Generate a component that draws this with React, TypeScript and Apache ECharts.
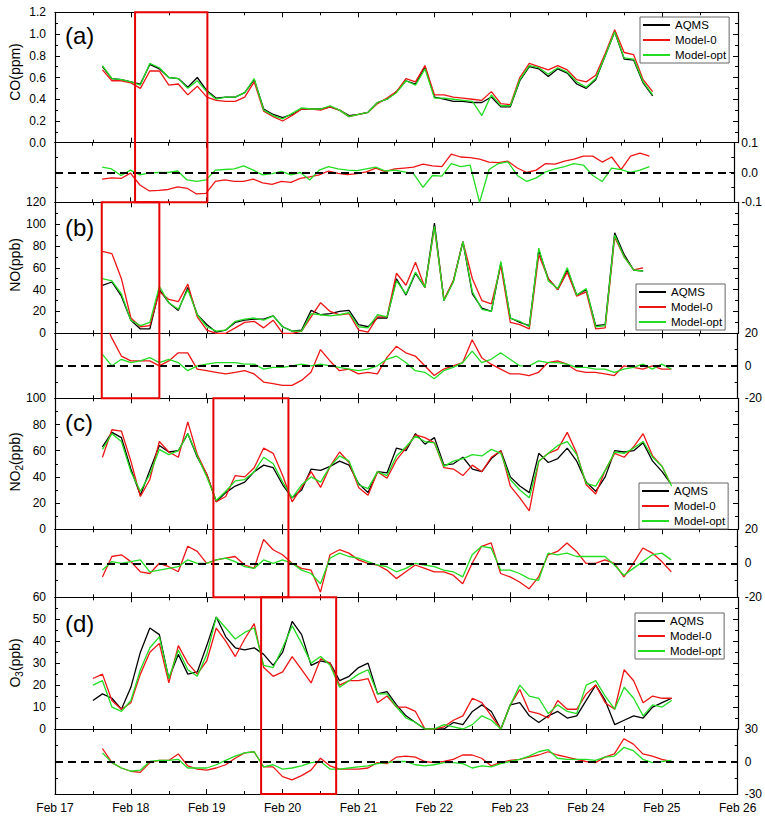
import React, { useEffect, useRef } from 'react';
import * as echarts from 'echarts';

// hours after Feb 17 00:00
const hours = [12, 15, 18, 21, 24, 27, 30, 33, 36, 39, 42, 45, 48, 51, 54, 57, 60, 63, 66, 69, 72, 75, 78, 81, 84, 87, 90, 93, 96, 99, 102, 105, 108, 111, 114, 117, 120, 123, 126, 129, 132, 135, 138, 141, 144, 147, 150, 153, 156, 159, 162, 165, 168, 171, 174, 177, 180, 183, 186, 189, 192, 195];
const dayLabels = ['Feb 17', 'Feb 18', 'Feb 19', 'Feb 20', 'Feb 21', 'Feb 22', 'Feb 23', 'Feb 24', 'Feb 25', 'Feb 26'];
const seriesNames = ['AQMS', 'Model-0', 'Model-opt'];

// CO (ppm)
const coAqms = [null, 0.70, 0.59, 0.58, 0.56, 0.54, 0.72, 0.68, 0.60, 0.59,
  0.51, 0.60, 0.48, 0.41, 0.42, 0.42, 0.46, 0.58, 0.31, 0.26,
  0.23, 0.26, 0.31, 0.31, 0.31, 0.33, 0.30, 0.25, 0.26, 0.28,
  0.37, 0.40, 0.47, 0.57, 0.54, 0.70, 0.42, 0.40, 0.38, 0.38,
  0.37, 0.37, 0.42, 0.33, 0.33, 0.57, 0.70, 0.68, 0.61, 0.68,
  0.64, 0.54, 0.50, 0.58, 0.80, 1.02, 0.77, 0.76, 0.55, 0.43,
  null, null];
const coModel0 = [null, 0.67, 0.57, 0.57, 0.55, 0.50, 0.66, 0.66, 0.53, 0.54,
  0.44, 0.52, 0.42, 0.39, 0.38, 0.38, 0.42, 0.56, 0.29, 0.24,
  0.20, 0.25, 0.31, 0.31, 0.30, 0.33, 0.30, 0.24, 0.26, 0.28,
  0.36, 0.41, 0.47, 0.59, 0.56, 0.71, 0.44, 0.44, 0.42, 0.41,
  0.40, 0.39, 0.47, 0.36, 0.35, 0.60, 0.73, 0.70, 0.67, 0.71,
  0.67, 0.58, 0.56, 0.62, 0.82, 1.04, 0.83, 0.81, 0.58, 0.47,
  null, null];
const coModelOpt = [null, 0.71, 0.59, 0.58, 0.56, 0.53, 0.73, 0.69, 0.60, 0.59,
  0.50, 0.57, 0.47, 0.40, 0.42, 0.42, 0.46, 0.59, 0.30, 0.25,
  0.22, 0.27, 0.32, 0.31, 0.31, 0.34, 0.30, 0.24, 0.26, 0.28,
  0.37, 0.40, 0.46, 0.57, 0.53, 0.68, 0.41, 0.41, 0.40, 0.39,
  0.38, 0.25, 0.44, 0.34, 0.34, 0.58, 0.71, 0.69, 0.63, 0.69,
  0.65, 0.56, 0.51, 0.59, 0.80, 1.02, 0.78, 0.77, 0.56, 0.44,
  null, null];
const coDiff0 = [null, -0.022, -0.018, -0.020, -0.002, -0.042, -0.062, -0.060, -0.057, -0.048,
  -0.053, -0.072, -0.070, -0.030, -0.025, -0.030, -0.030, -0.022, -0.035, -0.040,
  -0.030, -0.033, -0.020, -0.015, -0.008, 0.005, -0.003, -0.007, -0.004, 0.002,
  0.015, 0.003, 0.012, 0.015, 0.018, 0.028, 0.022, 0.020, 0.062, 0.052,
  0.050, 0.045, 0.035, 0.033, 0.038, 0.015, 0.000, 0.008, 0.030, 0.028,
  0.038, 0.045, 0.055, 0.055, 0.035, 0.052, 0.010, 0.055, 0.065, 0.055,
  null, null];
const coDiffOpt = [null, 0.018, 0.012, -0.010, 0.008, -0.008, -0.001, 0.000, 0.000, 0.005,
  -0.025, -0.030, -0.025, 0.008, 0.010, 0.012, 0.022, 0.008, -0.008, -0.004,
  0.004, -0.008, 0.000, -0.025, 0.008, 0.020, 0.012, 0.008, 0.006, 0.012,
  0.018, 0.005, 0.008, 0.002, -0.004, -0.050, -0.010, -0.012, 0.030, 0.020,
  0.025, -0.100, 0.010, 0.030, 0.036, -0.010, -0.030, -0.018, 0.002, 0.012,
  0.020, 0.030, 0.025, -0.010, -0.030, 0.015, 0.010, 0.000, 0.008, 0.020,
  null, null];

// NO (ppb)
const noAqms = [null, 44, 47, 34, 12, 4, 4, 40, 28, 21,
  42, 17, 8, 1, 3, 10, 12, 13, 13, 16,
  6, 2, 3, 21, 17, 18, 20, 21, 8, 6,
  14, 14, 50, 35, 55, 42, 101, 30, 48, 84,
  36, 23, 20, 64, 14, 10, 7, 76, 50, 40,
  58, 35, 40, 7, 8, 92, 72, 58, 57, null,
  null, null];
const noModel0 = [null, 75, 73, 50, 14, 6, 7, 38, 31, 29,
  45, 15, 3, 0, 0, 5, 10, 11, 5, 12,
  0, 0, 2, 15, 28, 20, 17, 18, 3, 1,
  15, 15, 55, 44, 65, 42, 97, 31, 48, 84,
  50, 30, 27, 62, 10, 8, 4, 72, 50, 40,
  56, 34, 38, 4, 5, 88, 70, 58, 60, null,
  null, null];
const noModelOpt = [null, 50, 48, 36, 12, 7, 10, 43, 28, 22,
  40, 17, 6, 2, 3, 11, 13, 14, 12, 16,
  6, 2, 2, 18, 17, 16, 17, 19, 6, 5,
  17, 15, 48, 36, 56, 42, 98, 30, 47, 84,
  38, 22, 20, 66, 14, 11, 6, 78, 48, 41,
  60, 35, 41, 6, 7, 90, 70, 58, 57, null,
  null, null];
const noDiff0 = [null, 30, 17, 6, 3, 3, 3, 0, 3, 8,
  8, -2, -3, -4, -5, -4, -3, -5, -10, -11,
  -12, -12, -9, -4, 10, 3, -3, -2, -5, -4,
  -5, 5, 12, 8, 6, 0, -6, -2, 0, 2,
  16, 5, 1, -2, -5, -5, -6, -4, 2, 3,
  1, -3, -4, -4, -5, -6, 0, -1, -2, 0,
  -2, -2];
const noDiffOpt = [null, 7, 0, 4, 2, 3, 5, 2, 4, 2,
  -3, 0, 1, 2, 2, 2, 1, 1, -2, -1,
  -1, 0, 1, 0, 1, 0, -1, -2, -3, -2,
  0, 4, 6, 2, -3, -4, -8, -3, -1, 2,
  9, 2, 4, 8, 4, 0, 0, 3, 2, 2,
  1, -1, -1, -2, -2, -4, -2, -1, 1, -2,
  1, -2];

// NO2 (ppb)
const no2Aqms = [null, 63, 74, 70, 46, 26, 45, 64, 59, 60,
  73, 55, 42, 21, 28, 33, 36, 44, 49, 47,
  34, 24, 30, 46, 45, 48, 52, 49, 35, 28,
  44, 43, 62, 60, 73, 65, 70, 49, 50, 55,
  46, 44, 54, 60, 40, 33, 28, 58, 51, 54,
  62, 52, 36, 29, 40, 60, 59, 60, 66, 52,
  44, 34];
const no2Model0 = [null, 55, 76, 75, 52, 25, 38, 67, 59, 55,
  82, 57, 42, 21, 25, 41, 40, 47, 62, 58,
  41, 21, 32, 44, 32, 48, 59, 51, 32, 26,
  44, 39, 53, 62, 72, 70, 66, 47, 46, 41,
  49, 44, 55, 60, 33, 24, 14, 52, 58, 61,
  74, 58, 34, 27, 45, 58, 55, 63, 73, 56,
  48, 33];
const no2ModelOpt = [null, 61, 73, 67, 44, 29, 42, 61, 57, 60,
  73, 56, 40, 22, 29, 37, 38, 44, 55, 50,
  36, 24, 34, 40, 36, 48, 56, 52, 34, 31,
  44, 41, 56, 63, 71, 67, 66, 48, 52, 54,
  57, 56, 61, 58, 38, 30, 24, 52, 58, 64,
  67, 57, 35, 33, 45, 59, 58, 62, 67, 55,
  48, 33];
const no2Diff0 = [null, -8, 4, 5, 1, -5, -6, 0, -2, -5,
  10, 7, 0, 2, 3, 4, -1, -3, 14, 8,
  5, 0, -3, -4, -17, 5, 8, 6, 2, 0,
  -1, -4, -9, -5, -1, -3, -5, -5, -7, -12,
  0, 10, 12, -6, -8, -11, -15, -8, 5, 7,
  12, 7, 0, 0, 2, 0, -8, 0, 9, 6,
  1, -5];
const no2DiffOpt = [null, -4, 1, 0, 1, 2, -5, -4, -3, -2,
  2, 0, 0, 2, 3, 1, -2, -3, 2, 0,
  2, 0, -4, -6, -12, 3, 6, 4, 3, 1,
  -1, -2, -5, -3, 0, -1, -2, -4, -5, -8,
  5, 10, 9, -4, -4, -6, -9, -10, 6, 5,
  6, 4, 4, 4, 4, -1, -7, -3, 1, 5,
  6, 2];

// O3 (ppb)
const o3Aqms = [13, 16, 14, 9, 19, 35, 46, 43, 23, 34,
  25, 26, 38, 51, 42, 37, 36, 37, 34, 29,
  35, 49, 43, 29, 31, 30, 22, 24, 28, 30,
  16, 17, 11, 6, 3, 0, 0, 0, 3, 2,
  8, 11, 8, 0, 11, 12, 6, 3, 6, 8,
  5, 6, 13, 20, 13, 2, 4, 6, 5, 10,
  12, 14];
const o3Model0 = [23, 25, 13, 9, 12, 25, 35, 39, 21, 38,
  30, 25, 31, 46, 40, 33, 41, 48, 28, 24,
  26, 33, 27, 21, 32, 30, 20, 22, 22, 23,
  12, 15, 10, 10, 8, 0, 0, 1, 4, 6,
  14, 12, 6, 0, 11, 18, 8, 7, 5, 13,
  9, 9, 16, 20, 12, 9, 27, 22, 12, 15,
  14, 14];
const o3ModelOpt = [20, 22, 10, 8, 13, 27, 37, 42, 23, 36,
  27, 24, 34, 51, 46, 41, 44, 46, 29, 28,
  37, 47, 39, 30, 33, 29, 19, 22, 25, 27,
  16, 16, 10, 5, 3, 0, 0, 2, 1, 0,
  2, 6, 4, 0, 11, 20, 15, 14, 7, 11,
  8, 7, 20, 22, 15, 9, 19, 14, 6, 11,
  10, 13];
const o3Diff0 = [null, 12, -1, -6, -9, -10, -1, 1, 1, 7,
  -4, -7, -8, -6, -3, 3, 8, 9, -5, -5,
  -14, -17, -13, -8, 3, -4, -7, -7, -7, -6,
  -1, -2, 4, 5, 4, 0, -1, 0, 2, 6,
  6, 3, -4, -1, 1, 2, 4, 6, 9, 6,
  4, 2, 0, -1, 4, 7, 21, 16, 7, 5,
  2, 0];
const o3DiffOpt = [null, 8, -1, -6, -9, -8, 0, 1, 1, 2,
  -6, -6, -6, -3, 1, 5, 8, 9, -5, -3,
  -7, -6, -4, -1, 0, -7, -7, -6, -5, -4,
  -2, -1, 0, 0, -3, -4, -3, -1, -1, -2,
  -6, -4, -5, -2, 0, 2, 5, 9, 11, 3,
  2, 2, 2, 1, 4, 5, 13, 10, 2, -1,
  0, 1];

// highlighted time windows (days after Feb 17 00:00)
const windows = [[1.055, 2.008], [0.616, 1.375], [2.087, 3.076], [2.716, 3.705]];

const FONT = '"Liberation Sans", Arial, Helvetica, sans-serif';
const COLORS = ['#000000', '#ee1515', '#22dd22'];
const LEFT = 55;
const RIGHT = 27;
const grids = [
  { top: 12.3, height: 130.4 },
  { top: 142.7, height: 59.6 },
  { top: 202.3, height: 131 },
  { top: 333.3, height: 65 },
  { top: 398.3, height: 131 },
  { top: 529.3, height: 68 },
  { top: 597.3, height: 131.7 },
  { top: 729, height: 65 },
];

const fmt1 = (v: number) => (Math.abs(v) < 1e-9 ? '0.0' : v.toFixed(1));
const fmt0 = (v: number) => String(Math.round(v));

const panels = [
  { tag: '(a)', tagY: 35, name: [{ t: 'CO(ppm)', s: false }], nameY: 72,
    main: [coAqms, coModel0, coModelOpt], diff: [coDiff0, coDiffOpt],
    y: [0, 1.2, 0.2], d: [-0.1, 0.1, 0.1], fmt: fmt1, legend: [640, 17] },
  { tag: '(b)', tagY: 227, name: [{ t: 'NO(ppb)', s: false }], nameY: 265,
    main: [noAqms, noModel0, noModelOpt], diff: [noDiff0, noDiffOpt],
    y: [0, 120, 20], d: [-20, 20, 20], fmt: fmt0, legend: [636, 284] },
  { tag: '(c)', tagY: 422, name: [{ t: 'NO', s: false }, { t: '2', s: true }, { t: '(ppb)', s: false }], nameY: 462,
    main: [no2Aqms, no2Model0, no2ModelOpt], diff: [no2Diff0, no2DiffOpt],
    y: [0, 100, 20], d: [-20, 20, 20], fmt: fmt0, legend: [639, 483] },
  { tag: '(d)', tagY: 623, name: [{ t: 'O', s: false }, { t: '3', s: true }, { t: '(ppb)', s: false }], nameY: 663,
    main: [o3Aqms, o3Model0, o3ModelOpt], diff: [o3Diff0, o3DiffOpt],
    y: [0, 60, 10], d: [-30, 30, 30], fmt: fmt0, legend: [635, 613] },
];

function pairs(vals: (number | null)[]) {
  return hours.map((h, i) => [h / 24, vals[i]]);
}

const axisLineStyle = { color: '#000', width: 1.2 };

export default function App() {
  const ref = useRef<HTMLDivElement>(null);
  useEffect(() => {
    if (!ref.current) return;
    const chart = echarts.init(ref.current, undefined, { renderer: 'svg' });

    const grid = grids.map((g) => ({ left: LEFT, right: RIGHT, top: g.top, height: g.height }));

    const xAxis: any[] = [];
    grids.forEach((_, gi) => {
      ['bottom', 'top'].forEach((pos) => {
        xAxis.push({
          type: 'value', gridIndex: gi, position: pos, min: 0, max: 9, interval: 1,
          axisLine: { show: true, onZero: false, lineStyle: axisLineStyle },
          axisTick: { show: true, inside: true, length: 5, lineStyle: { color: '#000', width: 1 } },
          minorTick: { show: true, splitNumber: 2, length: 3, lineStyle: { color: '#000', width: 1 } },
          splitLine: { show: false },
          axisLabel: {
            show: gi === 7 && pos === 'bottom', margin: 8, color: '#000', fontSize: 12, fontFamily: FONT,
            formatter: (v: number) => dayLabels[Math.round(v)] || '',
          },
        });
      });
    });

    const yAxis: any[] = [];
    panels.forEach((p) => {
      // main grid
      [['left', true], ['right', false]].forEach(([pos, lab]) => {
        yAxis.push({
          type: 'value', gridIndex: yAxis.length >> 1, position: pos, min: p.y[0], max: p.y[1], interval: p.y[2],
          axisLine: { show: true, onZero: false, lineStyle: axisLineStyle },
          axisTick: { show: true, inside: true, length: 5, lineStyle: { color: '#000' } },
          minorTick: { show: true, splitNumber: 2, length: 3, lineStyle: { color: '#000' } },
          splitLine: { show: false },
          axisLabel: { show: lab, margin: 9, color: '#000', fontSize: 12, fontFamily: FONT, formatter: p.fmt },
        });
      });
      [['left', false], ['right', true]].forEach(([pos, lab]) => {
        yAxis.push({
          type: 'value', gridIndex: yAxis.length >> 1, position: pos, min: p.d[0], max: p.d[1], interval: p.d[2],
          axisLine: { show: true, onZero: false, lineStyle: axisLineStyle },
          axisTick: { show: true, inside: true, length: 5, lineStyle: { color: '#000' } },
          minorTick: { show: true, splitNumber: 2, length: 3, lineStyle: { color: '#000' } },
          splitLine: { show: false },
          axisLabel: { show: lab, margin: 7, color: '#000', fontSize: 12, fontFamily: FONT, formatter: p.fmt },
        });
      });
    });

    const series: any[] = [];
    panels.forEach((p, pi) => {
      const gm = 2 * pi;
      const gd = 2 * pi + 1;
      p.main.forEach((vals, si) => {
        series.push({
          type: 'line', name: seriesNames[si], xAxisIndex: 2 * gm, yAxisIndex: 2 * gm,
          data: pairs(vals), showSymbol: false, symbol: 'none', connectNulls: false,
          lineStyle: { color: COLORS[si], width: 1.3 }, itemStyle: { color: COLORS[si] },
          z: 2 + si,
        });
      });
      p.diff.forEach((vals, k) => {
        const si = k + 1;
        const s: any = {
          type: 'line', name: seriesNames[si], xAxisIndex: 2 * gd, yAxisIndex: 2 * gd + 1,
          data: pairs(vals), showSymbol: false, symbol: 'none', connectNulls: false,
          lineStyle: { color: COLORS[si], width: 1.3 }, itemStyle: { color: COLORS[si] },
          z: 3 + k,
        };
        if (k === 0) {
          s.markLine = {
            silent: true, symbol: 'none', label: { show: false },
            lineStyle: { color: '#000', type: [8, 5], width: 2 },
            data: [{ yAxis: 0 }],
          };
        }
        series.push(s);
      });
    });

    const legend = panels.map((p) => ({
      left: p.legend[0], top: p.legend[1], orient: 'vertical',
      data: seriesNames, icon: 'rect', itemWidth: 27, itemHeight: 2, itemGap: 1, itemTextGap: 4,
      backgroundColor: '#fff', borderColor: '#666', borderWidth: 1, padding: [1, 3, 1, 3],
      textStyle: { fontSize: 11.5, color: '#000', fontFamily: FONT, lineHeight: 14 },
      selectedMode: false,
    }));

    const texts: any[] = [];
    panels.forEach((p, pi) => {
      texts.push({
        type: 'text', id: 'tag' + pi, x: 65, y: p.tagY, z: 50,
        style: { text: p.tag, fontSize: 24, fontFamily: FONT, fill: '#000', align: 'left', verticalAlign: 'middle' },
      });
      const txt = p.name.map((n) => (n.s ? '{s|' + n.t + '}' : '{n|' + n.t + '}')).join('');
      texts.push({
        type: 'text', id: 'name' + pi, x: 15, y: p.nameY, rotation: Math.PI / 2, z: 50,
        style: {
          text: txt, fill: '#000', align: 'center', verticalAlign: 'middle',
          rich: {
            n: { fontSize: 14, fontFamily: FONT, fill: '#000', lineHeight: 18 },
            s: { fontSize: 10, fontFamily: FONT, fill: '#000', lineHeight: 18, padding: [9, 0, 0, 0] },
          },
        },
      });
    });

    chart.setOption({
      animation: false,
      backgroundColor: '#fff',
      grid, xAxis, yAxis, series, legend,
      graphic: texts,
    });

    const rects = windows.map((w, pi) => {
      const x0 = chart.convertToPixel({ xAxisIndex: 4 * pi } as any, w[0]) as unknown as number;
      const x1 = chart.convertToPixel({ xAxisIndex: 4 * pi } as any, w[1]) as unknown as number;
      const y0 = chart.convertToPixel({ yAxisIndex: 4 * pi } as any, panels[pi].y[1]) as unknown as number;
      const y1 = chart.convertToPixel({ yAxisIndex: 4 * pi + 3 } as any, panels[pi].d[0]) as unknown as number;
      return {
        type: 'rect', id: 'win' + pi, z: 60, silent: true,
        shape: { x: x0, y: y0, width: x1 - x0, height: y1 - y0 },
        style: { fill: 'none', stroke: '#e60000', lineWidth: 2 },
      };
    });
    chart.setOption({ graphic: [...texts, ...rects] });

    return () => chart.dispose();
  }, []);
  return <div ref={ref} style={{ position: 'absolute', left: 0, top: 0, width: 765, height: 823 }} />;
}
